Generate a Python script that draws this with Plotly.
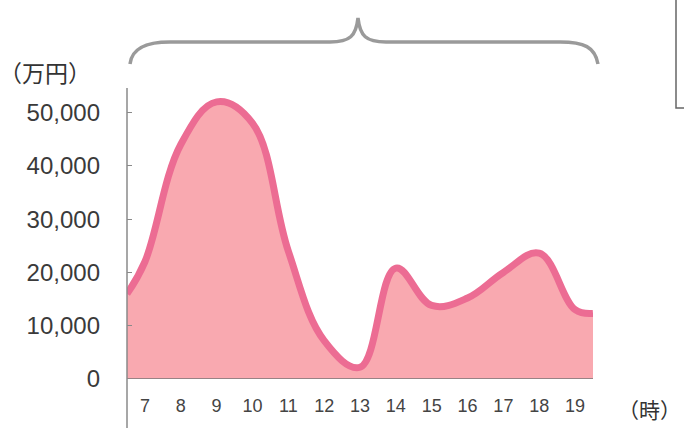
import plotly.graph_objects as go

# Hourly sales (万円) by hour of day
hours = [7, 8, 9, 10, 11, 12, 13, 14, 15, 16, 17, 18, 19]
sales = [22000, 44000, 52000, 48000, 24000, 7200, 2200, 20800, 13800, 15200, 20000, 23600, 13000]
# values at the half-hour edges of the chart
edge_hours = [6.5, 19.5]
edge_sales = [16000, 12300]

y_ticks = [0, 10000, 20000, 30000, 40000, 50000]
y_tick_text = ["0", "10,000", "20,000", "30,000", "40,000", "50,000"]
x_tick_text = [str(h) for h in hours]

xs = [edge_hours[0]] + hours + [edge_hours[1]]
ys = [edge_sales[0]] + sales + [edge_sales[1]]

W, H = 684, 428
L, R, T, B = 127, 91, 88, 49
pw, ph = W - L - R, H - T - B


def px(x, y):
    """pixel -> paper coordinates"""
    return (x - L) / pw, (H - B - y) / ph


def path(cmds):
    out = []
    for c in cmds:
        if isinstance(c, str):
            out.append(c)
        else:
            a, b = px(*c)
            out.append(f"{a:.4f},{b:.4f}")
    return " ".join(out)


fig = go.Figure()
fig.add_trace(go.Scatter(
    x=xs, y=ys, mode="lines",
    line=dict(shape="spline", smoothing=1.1, color="#EC6C93", width=7),
    fill="tozeroy", fillcolor="#F9A9B0",
    hoverinfo="skip", showlegend=False,
))

grey = "#8a8a8a"
shapes = [
    # baseline
    dict(type="line", xref="paper", yref="y", x0=0, x1=1, y0=0, y1=0,
         line=dict(color="#777777", width=1.5), layer="above"),
    # vertical axis line continuing below baseline
    dict(type="line", xref="paper", yref="paper", x0=0, x1=0,
         y0=px(0, H + 2)[1], y1=1.0, line=dict(color=grey, width=1.5)),
    # brace above the chart
    dict(type="path", xref="paper", yref="paper",
         path=path(["M", (130, 64), "C", (132, 47), (148, 42), (170, 42),
                    "L", (330, 42), "C", (350, 42), (356, 36), (358, 18),
                    "C", (360, 36), (366, 42), (386, 42),
                    "L", (560, 42), "C", (584, 42), (595, 47), (598, 64)]),
         line=dict(color="#9a9a9a", width=3.5)),
    # frame edge at top right
    dict(type="rect", xref="paper", yref="paper",
         x0=px(676, 0)[0], x1=px(700, 0)[0], y0=px(0, 108)[1], y1=px(0, -5)[1],
         line=dict(color="#666666", width=1.5)),
]

annotations = [
    dict(text="（万円）", xref="paper", yref="paper", x=px(-3, 0)[0], y=px(0, 72)[1],
         xanchor="left", yanchor="middle", showarrow=False,
         font=dict(family="Noto Sans CJK JP", size=23, color="#333333")),
    dict(text="（時）", xref="paper", yref="paper", x=px(683, 0)[0], y=px(0, 409)[1],
         xanchor="right", yanchor="middle", showarrow=False,
         font=dict(family="Noto Sans CJK JP", size=21, color="#333333")),
]

fig.update_layout(
    width=W, height=H,
    margin=dict(l=L, r=R, t=T, b=B, pad=0),
    paper_bgcolor="white", plot_bgcolor="white",
    shapes=shapes, annotations=annotations,
    xaxis=dict(range=[6.5, 19.5], tickvals=hours, ticktext=x_tick_text,
               showgrid=False, zeroline=False, showline=False, ticks="",
               ticklabelstandoff=14,
               tickfont=dict(family="Liberation Sans", size=18, color="#444444")),
    yaxis=dict(range=[0, 54600], tickvals=y_ticks, ticktext=y_tick_text,
               showgrid=False, zeroline=False, showline=False,
               ticks="inside", ticklen=5, tickcolor=grey, tickwidth=1.2,
               ticklabelstandoff=26,
               tickfont=dict(family="Liberation Sans", size=24, color="#3a3a3a")),
)

fig.write_html("out.html")
